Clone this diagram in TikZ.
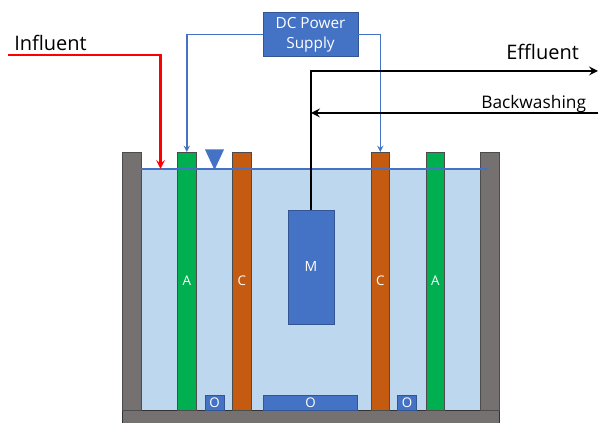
\documentclass[tikz,border=0pt]{standalone}
\usepackage{fontspec}
\setmainfont{Open Sans}
\usetikzlibrary{positioning, calc}
\definecolor{water}{HTML}{BDD7EE}
\definecolor{wall}{HTML}{767171}
\definecolor{boxblue}{HTML}{4472C4}
\definecolor{anode}{HTML}{00B050}
\definecolor{cathode}{HTML}{C55A11}
\tikzset{
  plate/.style = {draw = black!70, line width = 0.6pt, inner sep = 0, outer sep = 0, text = white,
    minimum width = 13.9pt, minimum height = 193.5pt, font = \fontsize{10}{10}\selectfont},
  blue-box/.style = {draw = boxblue!75!black, line width = 0.5pt, fill = boxblue, inner sep = 0,
    outer sep = 0, text = white, font = \fontsize{10}{10}\selectfont},
  flow-label/.style = {inner sep = 0, text = black},
  wire/.style = {boxblue, line width = 1.1pt, ->, >=stealth},
  pipe/.style = {line width = 1.9pt, ->, >=stealth}
}
\begin{document}
\begin{tikzpicture}[x = 0.75pt, y = 0.75pt]
    \useasboundingbox (0,0) rectangle (598,423);

    \node[draw = black!80, line width = 0.5pt, fill = wall, inner sep = 0, outer sep = 0,
      minimum width = 282.2pt, minimum height = 9.75pt, anchor = south west] (base) at (122.7,0) {};

    \node[fill = water, inner sep = 0, outer sep = 0, minimum width = 255pt, minimum height = 180.75pt,
      above right = 0 and 18.3 of base.north west] (tank) {};

    \node[plate, fill = wall, above right = 0 and 0 of base.north west] (left-wall) {};
    \node[plate, fill = wall, above left = 0 and 0 of base.north east] (right-wall) {};

    \node[plate, fill = anode, above right = 0 and 54.8 of base.north west] (anode-left) {A};
    \node[plate, fill = cathode, above right = 0 and 109.8 of base.north west] (cathode-left) {C};
    \node[plate, fill = cathode, above right = 0 and 248.3 of base.north west] (cathode-right) {C};
    \node[plate, fill = anode, above right = 0 and 303.3 of base.north west] (anode-right) {A};

    % water level
    \coordinate[above = 0 of tank.north west] (level-left);
    \coordinate[right = 347 of level-left] (level-right);
    \draw[boxblue, line width = 1.1pt] (level-left) -- (level-right);
    \coordinate (level-mark) at (214.5,253);
    \fill[boxblue] (level-mark) -- ++(-9.5,20.5) -- ++(19,0) -- cycle;

    \node[blue-box, minimum width = 34.5pt, minimum height = 85.5pt, font = \fontsize{10.5}{10.5}\selectfont,
      anchor = north] (membrane) at (311,213) {M};

    \node[blue-box, minimum width = 14pt, minimum height = 11.25pt,
      above right = 0 and 82.6 of base.north west] (oxide-left) {O};
    \node[blue-box, minimum width = 70.5pt, minimum height = 11.25pt,
      above right = 0 and 140.8 of base.north west] (oxide-mid) {O};
    \node[blue-box, minimum width = 14pt, minimum height = 11.25pt,
      above right = 0 and 275 of base.north west] (oxide-right) {O};

    \node[blue-box, minimum width = 71pt, minimum height = 33pt, align = center,
      font = \fontsize{11.5}{15}\selectfont] (power) at (310.5,388.5) {DC Power\\Supply};

    % power wires
    \draw[wire] (power.west) -| (anode-left.north);
    \draw[wire] (power.east) -| (cathode-right.north);

    % influent
    \coordinate (influent-start) at (8,368);
    \coordinate (influent-end) at (160.5,254);
    \draw[pipe, red] (influent-start) -| (influent-end);
    \node[flow-label, font = \fontsize{15}{15}\selectfont, anchor = west] (influent-t) at (14,380) {Influent};

    % effluent and backwashing
    \coordinate (effluent-end) at (598,352);
    \draw[pipe] (membrane.north) |- (effluent-end);
    \node[flow-label, font = \fontsize{15}{15}\selectfont, anchor = west] (effluent-t) at (506,371) {Effluent};

    \coordinate (backwash-start) at (598,310);
    \draw[pipe] (backwash-start) -- (backwash-start -| membrane.north);
    \node[flow-label, font = \fontsize{13}{13}\selectfont, anchor = west] (backwash-t) at (481,319) {Backwashing};
  \end{tikzpicture}
\end{document}
